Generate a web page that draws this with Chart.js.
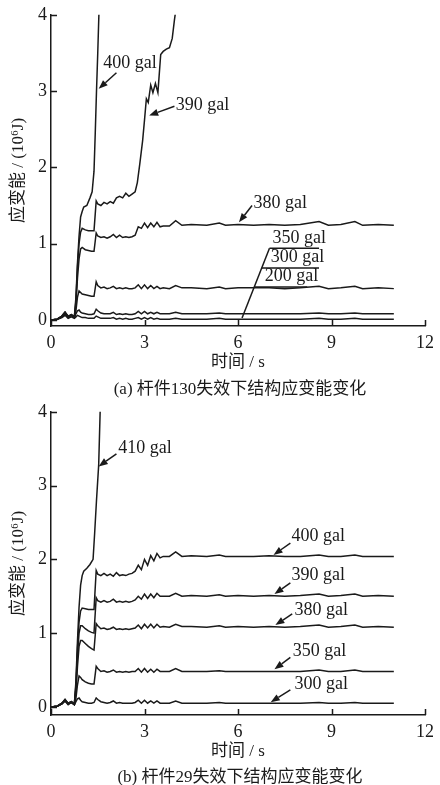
<!DOCTYPE html>
<html>
<head>
<meta charset="utf-8">
<script src="https://cdn.jsdelivr.net/npm/chart.js@4.4.1/dist/chart.umd.min.js"></script>
<style>
  body { margin: 0; background: #fff; width: 440px; height: 785px; position: relative; overflow: hidden; }
  canvas { position: absolute; left: 0; }
  #chartA { top: 0; }
  #chartB { top: 397px; }
  .cap { position: absolute; left: 51px; width: 378px; text-align: center; line-height: 20px;
         font: 17px 'Liberation Serif', 'Noto Sans CJK SC'; color: #1a1a1a; }
</style>
</head>
<body>
<canvas id="chartA" width="440" height="378"></canvas>
<div class="cap" style="top:374px">(a) 杆件130失效下结构应变能变化</div>
<canvas id="chartB" width="440" height="370"></canvas>
<div class="cap" style="top:762px">(b) 杆件29失效下结构应变能变化</div>
<script>
// shared time grid (s) for curves that settle
const timeGrid = [0, 0.2, 0.35, 0.45, 0.55, 0.65, 0.75, 0.8, 0.85, 0.9,
  0.95, 1.0, 1.1, 1.2, 1.3, 1.38, 1.45, 1.5, 1.6, 1.7,
  1.8, 1.9, 2.0, 2.1, 2.2, 2.3, 2.4, 2.5, 2.6, 2.7,
  2.8, 2.9, 3.0, 3.1, 3.2, 3.3, 3.4, 3.5, 3.6, 3.8,
  4.0, 4.2, 4.5, 5.0, 5.4, 5.6, 6.0, 6.5, 7.0, 7.5,
  8.0, 8.6, 8.9, 9.3, 9.75, 10.0, 10.5, 11.0]

// (a) member 130 failure, strain energy (10^6 J)
const a380 = [0, 0.01, 0.05, 0.1, 0.04, 0.07, 0.04, 0.2, 0.55, 0.8,
  0.93, 0.95, 0.92, 0.91, 0.9, 0.9, 1.14, 1.1, 1.08, 1.09,
  1.07, 1.09, 1.12, 1.08, 1.11, 1.08, 1.09, 1.08, 1.09, 1.11,
  1.22, 1.2, 1.27, 1.21, 1.27, 1.22, 1.28, 1.22, 1.23, 1.23,
  1.3, 1.24, 1.25, 1.24, 1.27, 1.24, 1.25, 1.24, 1.25, 1.24,
  1.25, 1.29, 1.24, 1.25, 1.29, 1.24, 1.25, 1.24]
const a350 = [0, 0.01, 0.04, 0.08, 0.04, 0.06, 0.03, 0.12, 0.3, 0.38,
  0.36, 0.34, 0.33, 0.32, 0.31, 0.31, 0.5, 0.45, 0.42, 0.43,
  0.41, 0.42, 0.44, 0.41, 0.42, 0.41, 0.42, 0.41, 0.41, 0.42,
  0.46, 0.41, 0.46, 0.41, 0.45, 0.41, 0.44, 0.41, 0.42, 0.41,
  0.45, 0.42, 0.42, 0.41, 0.43, 0.41, 0.42, 0.42, 0.42, 0.41,
  0.42, 0.44, 0.41, 0.42, 0.44, 0.41, 0.42, 0.41]
const a300 = [0, 0.01, 0.04, 0.08, 0.03, 0.06, 0.03, 0.08, 0.12, 0.13,
  0.1, 0.09, 0.08, 0.07, 0.07, 0.08, 0.14, 0.12, 0.09, 0.08,
  0.08, 0.08, 0.1, 0.07, 0.08, 0.07, 0.08, 0.07, 0.07, 0.08,
  0.11, 0.08, 0.11, 0.08, 0.1, 0.08, 0.1, 0.08, 0.08, 0.08,
  0.1, 0.08, 0.08, 0.08, 0.09, 0.08, 0.08, 0.08, 0.08, 0.08,
  0.08, 0.09, 0.08, 0.08, 0.09, 0.08, 0.08, 0.08]
const a200 = [0, 0.005, 0.03, 0.06, 0.02, 0.04, 0.02, 0.04, 0.06, 0.05,
  0.04, 0.03, 0.03, 0.02, 0.02, 0.02, 0.05, 0.04, 0.02, 0.02,
  0.02, 0.02, 0.03, 0.01, 0.02, 0.01, 0.02, 0.01, 0.01, 0.02,
  0.03, 0.01, 0.03, 0.01, 0.03, 0.01, 0.02, 0.01, 0.01, 0.01,
  0.02, 0.01, 0.01, 0.01, 0.02, 0.01, 0.01, 0.01, 0.01, 0.01,
  0.01, 0.02, 0.01, 0.01, 0.02, 0.01, 0.01, 0.01]
const a400T = [0, 0.2, 0.35, 0.45, 0.55, 0.65, 0.75, 0.8, 0.85, 0.9, 0.95, 1.0, 1.05, 1.15, 1.25, 1.32, 1.38, 1.42, 1.46, 1.5, 1.54]
const a400E = [0, 0.01, 0.05, 0.1, 0.05, 0.07, 0.04, 0.3, 0.75, 1.1, 1.35, 1.42, 1.48, 1.5, 1.6, 1.68, 1.95, 2.45, 3.0, 3.5, 4.05]
const a390T = [0, 0.2, 0.35, 0.45, 0.55, 0.65, 0.75, 0.8, 0.85, 0.9,
  0.95, 1.0, 1.1, 1.2, 1.3, 1.38, 1.45, 1.5, 1.6, 1.7,
  1.8, 1.9, 2.0, 2.1, 2.2, 2.3, 2.4, 2.5, 2.6, 2.7,
  2.77, 2.85, 2.94, 3.0, 3.06, 3.12, 3.2, 3.27, 3.35, 3.43,
  3.52, 3.6, 3.7, 3.8, 3.89, 3.96, 4.0]
const a390E = [0, 0.01, 0.05, 0.1, 0.04, 0.07, 0.04, 0.25, 0.7, 1.0,
  1.15, 1.2, 1.18, 1.17, 1.17, 1.17, 1.56, 1.52, 1.5, 1.54,
  1.52, 1.55, 1.53, 1.6, 1.62, 1.6, 1.66, 1.62, 1.65, 1.68,
  1.8, 2.05, 2.35, 2.62, 2.9, 2.85, 3.08, 2.98, 3.1, 2.98,
  3.48, 3.52, 3.55, 3.57, 3.69, 3.93, 4.05]

// (b) member 29 failure
const b400 = [0, 0.01, 0.05, 0.09, 0.05, 0.07, 0.04, 0.3, 0.8, 1.15,
  1.3, 1.34, 1.33, 1.32, 1.32, 1.32, 1.85, 1.8, 1.78, 1.81,
  1.78, 1.8, 1.77, 1.82, 1.78, 1.79, 1.78, 1.8, 1.81, 1.84,
  1.92, 1.86, 2.0, 1.92, 2.05, 1.98, 2.08, 2.02, 2.04, 2.04,
  2.1, 2.04, 2.05, 2.04, 2.06, 2.04, 2.04, 2.04, 2.05, 2.04,
  2.04, 2.06, 2.04, 2.04, 2.06, 2.04, 2.04, 2.04]
const b390 = [0, 0.01, 0.05, 0.1, 0.04, 0.07, 0.04, 0.25, 0.7, 1.0,
  1.1, 1.1, 1.06, 1.03, 1.01, 1.0, 1.48, 1.44, 1.42, 1.44,
  1.42, 1.43, 1.46, 1.42, 1.43, 1.42, 1.43, 1.42, 1.43, 1.45,
  1.5, 1.46, 1.53, 1.47, 1.53, 1.48, 1.54, 1.5, 1.5, 1.5,
  1.54, 1.5, 1.51, 1.5, 1.52, 1.5, 1.51, 1.5, 1.51, 1.5,
  1.51, 1.53, 1.5, 1.51, 1.53, 1.5, 1.51, 1.5]
const b380 = [0, 0.01, 0.04, 0.09, 0.04, 0.06, 0.03, 0.2, 0.55, 0.82,
  0.9, 0.9, 0.86, 0.82, 0.79, 0.77, 1.13, 1.1, 1.06, 1.07,
  1.05, 1.06, 1.08, 1.05, 1.06, 1.05, 1.06, 1.05, 1.06, 1.07,
  1.11, 1.06, 1.12, 1.07, 1.12, 1.07, 1.12, 1.08, 1.09, 1.08,
  1.12, 1.09, 1.09, 1.08, 1.1, 1.08, 1.09, 1.08, 1.09, 1.08,
  1.09, 1.11, 1.08, 1.09, 1.11, 1.08, 1.09, 1.08]
const b350 = [0, 0.01, 0.04, 0.08, 0.04, 0.06, 0.03, 0.12, 0.3, 0.42,
  0.4, 0.37, 0.34, 0.32, 0.31, 0.31, 0.55, 0.52, 0.48, 0.49,
  0.47, 0.48, 0.5, 0.47, 0.48, 0.47, 0.48, 0.47, 0.48, 0.48,
  0.52, 0.47, 0.52, 0.47, 0.51, 0.47, 0.51, 0.48, 0.48, 0.48,
  0.52, 0.48, 0.48, 0.48, 0.49, 0.48, 0.48, 0.48, 0.48, 0.48,
  0.48, 0.5, 0.48, 0.48, 0.5, 0.48, 0.48, 0.48]
const b300 = [0, 0.01, 0.04, 0.08, 0.03, 0.06, 0.03, 0.07, 0.11, 0.12,
  0.09, 0.07, 0.06, 0.05, 0.05, 0.06, 0.12, 0.1, 0.07, 0.06,
  0.05, 0.06, 0.08, 0.05, 0.06, 0.05, 0.05, 0.05, 0.05, 0.06,
  0.09, 0.05, 0.09, 0.05, 0.08, 0.05, 0.08, 0.05, 0.05, 0.05,
  0.08, 0.05, 0.05, 0.05, 0.06, 0.05, 0.05, 0.05, 0.05, 0.05,
  0.05, 0.06, 0.05, 0.05, 0.06, 0.05, 0.05, 0.05]
const b410T = [0, 0.2, 0.35, 0.45, 0.55, 0.65, 0.75, 0.8, 0.85, 0.9, 0.95, 1.0, 1.05, 1.15, 1.25, 1.35, 1.4, 1.46, 1.53, 1.58]
const b410E = [0, 0.01, 0.05, 0.1, 0.05, 0.07, 0.04, 0.35, 0.9, 1.35, 1.65, 1.78, 1.84, 1.88, 1.93, 2.0, 2.35, 2.8, 3.28, 4.05]

const xTicks = [0, 3, 6, 9, 12]
const yTicks = [0, 1, 2, 3, 4]
const xTitle = '时间 / s'
const yTitle = '应变能 / (10⁶J)'

// label text with anchor (data coords) and arrow from -> to
const notesA = [
  { text: '400 gal', at: [1.68, 3.37], from: [2.10, 3.24], to: [1.53, 3.03] },
  { text: '390 gal', at: [4.0, 2.81], from: [3.96, 2.80], to: [3.15, 2.68] },
  { text: '380 gal', at: [6.5, 1.53], from: [6.45, 1.50], to: [6.03, 1.28] },
  { text: '350 gal', at: [7.11, 1.07] },
  { text: '300 gal', at: [7.05, 0.82] },
  { text: '200 gal', at: [6.86, 0.575] }
]
const leadersA = [
  [[7.01, 0.94], [6.13, 0.026]],
  [[7.01, 0.94], [8.6, 0.94]],
  [[6.76, 0.68], [8.6, 0.68]],
  [[6.52, 0.43], [8.22, 0.43]]
]
const notesB = [
  { text: '410 gal', at: [2.16, 3.51], from: [2.10, 3.43], to: [1.53, 3.26] },
  { text: '400 gal', at: [7.72, 2.31], from: [7.68, 2.22], to: [7.14, 2.06] },
  { text: '390 gal', at: [7.72, 1.79], from: [7.68, 1.68], to: [7.17, 1.53] },
  { text: '380 gal', at: [7.81, 1.31], from: [7.74, 1.26], to: [7.20, 1.11] },
  { text: '350 gal', at: [7.76, 0.755], from: [7.68, 0.67], to: [7.17, 0.51] },
  { text: '300 gal', at: [7.81, 0.31], from: [7.68, 0.23], to: [7.05, 0.064] }
]

const ink = '#1a1a1a'
const serif = "'Liberation Serif', 'Noto Sans CJK SC'"

const innerTicks = {
  id: 'innerTicks',
  afterDraw(chart) {
    const { ctx, chartArea: a, scales: { x, y } } = chart
    ctx.save()
    ctx.strokeStyle = ink
    ctx.lineWidth = 1.5
    ctx.beginPath()
    x.ticks.forEach(t => {
      const p = Math.round(x.getPixelForValue(t.value)) + 0.5
      ctx.moveTo(p, a.bottom); ctx.lineTo(p, a.bottom - 6)
    })
    y.ticks.forEach(t => {
      const p = Math.round(y.getPixelForValue(t.value)) + 0.5
      ctx.moveTo(a.left, p); ctx.lineTo(a.left + 6, p)
    })
    ctx.stroke()
    ctx.restore()
  }
}

const galLabels = {
  id: 'galLabels',
  afterDatasetsDraw(chart, args, opts) {
    const { ctx, scales: { x, y } } = chart
    const px = p => [x.getPixelForValue(p[0]), y.getPixelForValue(p[1])]
    ctx.save()
    ctx.strokeStyle = ink
    ctx.fillStyle = ink
    ctx.lineWidth = 1.5
    ctx.font = '18px ' + serif
    ctx.textBaseline = 'middle'
    ;(opts.notes || []).forEach(n => {
      const [tx, ty] = px(n.at)
      ctx.fillText(n.text, tx, ty)
      if (!n.from) return
      const [x1, y1] = px(n.from)
      const [x2, y2] = px(n.to)
      const ang = Math.atan2(y2 - y1, x2 - x1)
      const bx = x2 - 9 * Math.cos(ang), by = y2 - 9 * Math.sin(ang)
      ctx.beginPath(); ctx.moveTo(x1, y1); ctx.lineTo(bx, by); ctx.stroke()
      ctx.beginPath()
      ctx.moveTo(x2, y2)
      ctx.lineTo(bx + 3.5 * Math.sin(ang), by - 3.5 * Math.cos(ang))
      ctx.lineTo(bx - 3.5 * Math.sin(ang), by + 3.5 * Math.cos(ang))
      ctx.closePath(); ctx.fill()
    })
    ;(opts.lines || []).forEach(l => {
      const [x1, y1] = px(l[0])
      const [x2, y2] = px(l[1])
      ctx.beginPath(); ctx.moveTo(x1, y1); ctx.lineTo(x2, y2); ctx.stroke()
    })
    ctx.restore()
  }
}

function toPoints(t, e) {
  return t.map((v, i) => ({ x: v, y: e[i] }))
}

function makeChart(id, series, yMin, notes, lines) {
  const ctx = document.getElementById(id).getContext('2d')
  return new Chart(ctx, {
    type: 'line',
    data: {
      datasets: series.map(s => ({
        data: toPoints(s[0], s[1]),
        borderColor: ink,
        borderWidth: 1.5,
        pointRadius: 0,
        tension: 0
      }))
    },
    options: {
      responsive: false,
      animation: false,
      layout: { padding: { top: 14, right: 11, left: 0, bottom: 0 } },
      plugins: {
        legend: { display: false },
        tooltip: { enabled: false },
        galLabels: { notes, lines }
      },
      scales: {
        x: {
          type: 'linear', min: 0, max: 12,
          grid: { display: false, drawTicks: false },
          border: { color: ink, width: 1.5 },
          afterBuildTicks: s => { s.ticks = xTicks.map(v => ({ value: v })) },
          afterFit: s => { s.height = 52 },
          ticks: { padding: 6, color: ink, maxRotation: 0, font: { family: serif, size: 18 } },
          title: { display: true, text: xTitle, color: ink, font: { family: serif, size: 17 }, padding: { top: 0, bottom: 5 } }
        },
        y: {
          type: 'linear', min: yMin, max: 4,
          grid: { display: false, drawTicks: false },
          border: { color: ink, width: 1.5 },
          afterBuildTicks: s => { s.ticks = yTicks.map(v => ({ value: v })) },
          afterFit: s => { s.width = 51 },
          ticks: { padding: 4, color: ink, font: { family: serif, size: 18 } },
          title: { display: true, text: yTitle, color: ink, font: { family: serif, size: 17 }, padding: { top: 8, bottom: 0 } }
        }
      }
    },
    plugins: [innerTicks, galLabels]
  })
}

makeChart('chartA', [
  [a400T, a400E], [a390T, a390E], [timeGrid, a380],
  [timeGrid, a350], [timeGrid, a300], [timeGrid, a200]
], -0.08, notesA, leadersA)

makeChart('chartB', [
  [b410T, b410E], [timeGrid, b400], [timeGrid, b390],
  [timeGrid, b380], [timeGrid, b350], [timeGrid, b300]
], -0.11, notesB, [])
</script>
</body>
</html>
